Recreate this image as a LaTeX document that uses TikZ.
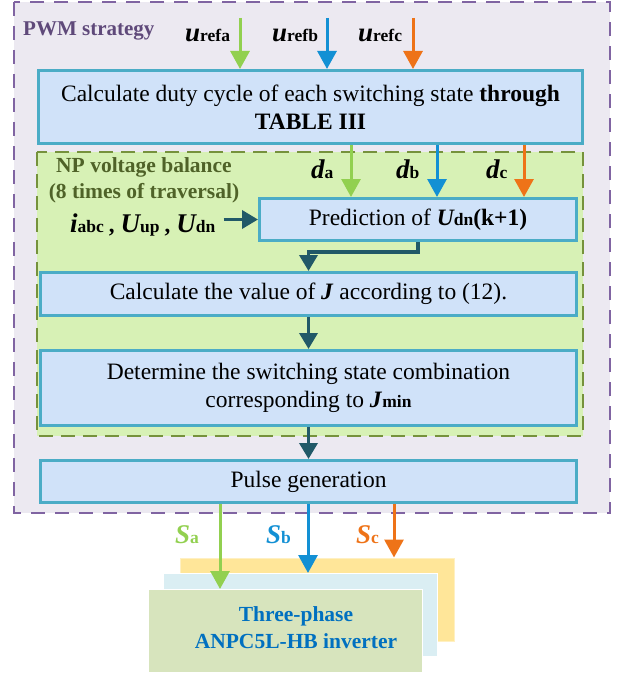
\documentclass[tikz,border=0pt]{standalone}
\usepackage{fontspec}
\setmainfont{Liberation Serif}
\usetikzlibrary{arrows.meta,positioning,calc}
\definecolor{PurpleDash}{HTML}{8064A2}
\definecolor{PurpleText}{HTML}{5F497A}
\definecolor{Lavender}{HTML}{ECE9F1}
\definecolor{NPGreen}{HTML}{D7F1B5}
\definecolor{NPDash}{HTML}{76923C}
\definecolor{NPText}{HTML}{4F6228}
\definecolor{BoxFill}{HTML}{D0E2F9}
\definecolor{BoxLine}{HTML}{4BACC6}
\definecolor{FlowDark}{HTML}{215968}
\definecolor{PhA}{HTML}{92D050}
\definecolor{PhB}{HTML}{1390D4}
\definecolor{PhC}{HTML}{EE7318}
\definecolor{InvYellow}{HTML}{FFE699}
\definecolor{InvBlue}{HTML}{DAEEF3}
\definecolor{InvGreen}{HTML}{D7E4BD}
\definecolor{InvText}{HTML}{0070C0}
\newcommand{\vsig}[2]{{\fontsize{27}{27}\selectfont\bfseries\itshape #1}{\fontsize{17.5}{18}\selectfont\bfseries #2}}
\newcommand{\vsub}[1]{{\fontsize{17.5}{18}\selectfont\bfseries #1}}
\newcommand{\vcomma}{\hspace{5pt}{\fontsize{23}{24}\selectfont\bfseries ,}\hspace{6pt}}

\begin{document}
\begin{tikzpicture}[
    x=1pt,y=-1pt,
    pbox/.style={rectangle,draw=BoxLine,fill=BoxFill,line width=3pt,align=center,inner sep=0pt,font=\fontsize{23.5}{28}\selectfont},
    invbox/.style={rectangle,line width=1pt,minimum width=274pt,minimum height=83pt},
    lbl/.style={anchor=base west,inner sep=0pt},
    flow/.style={-{Triangle[length=16pt,width=18pt]},line width=3.5pt,FlowDark},
    phase/.style={-{Triangle[length=18pt,width=19pt]},line width=3pt}
  ]
  \useasboundingbox (0,0) rectangle (616,674);
  % Regions
  \draw[PurpleDash,fill=Lavender,line width=2pt,dash pattern=on 14pt off 10pt] (14,2) rectangle (610,513);
  \draw[NPDash,fill=NPGreen,line width=2pt,dash pattern=on 14pt off 8pt] (37,152) rectangle (583,436);
  \node[lbl,font=\fontsize{21}{24}\selectfont\bfseries,text=PurpleText] (pwm) at (23,36) {PWM strategy};
  \node[align=center,font=\fontsize{21.5}{26}\selectfont\bfseries,text=NPText,inner sep=0pt] (np) at (144,180) {NP voltage balance\\(8 times of traversal)};
  % Steps
  \node[pbox,minimum width=544pt,minimum height=73pt] (duty) at (310.5,107)
    {Calculate duty cycle of each switching state \textbf{through}\\\textbf{TABLE III}};
  \node[pbox,minimum width=317pt,minimum height=42pt] (pred) at (418,219.5)
    {Prediction of {\bfseries\itshape U}\vsub{dn}\textbf{(k+1)}};
  \node[pbox,minimum width=536pt,minimum height=43pt] (calcj) at (308.5,294)
    {Calculate the value of \textbf{\textit{J}} according to (12).};
  \node[pbox,minimum width=536pt,minimum height=75pt] (detj) at (308.5,388)
    {Determine the switching state combination\\corresponding to \textbf{\textit{J}}\vsub{min}};
  \node[pbox,minimum width=536pt,minimum height=42pt] (pulse) at (308.5,481.5) {Pulse generation};
  % Inverter
  \node[invbox,fill=InvYellow,draw=InvYellow!60!white] (invc) at (317,599.5) {};
  \node[invbox,fill=InvBlue,draw=white] (invb) at (300.5,615) {};
  \node[invbox,fill=InvGreen,draw=white] (inva) at (285.5,631) {};
  \node[align=center,font=\fontsize{21.5}{27}\selectfont\bfseries,text=InvText] (invtxt) at (296,628)
    {Three-phase\\ANPC5L-HB inverter};
  % Signals
  \node[lbl] (urefa) at (185,42) {\vsig{u}{refa}};
  \node[lbl] (urefb) at (272,42) {\vsig{u}{refb}};
  \node[lbl] (urefc) at (358,42) {\vsig{u}{refc}};
  \node[lbl] (da) at (311,178) {\vsig{d}{a}};
  \node[lbl] (db) at (396,178) {\vsig{d}{b}};
  \node[lbl] (dc) at (486,178) {\vsig{d}{c}};
  \node[lbl] (iabc) at (70,232) {\vsig{i}{abc}\vcomma\vsig{U}{up}\vcomma\vsig{U}{dn}};
  \node[lbl,text=PhA] (sa) at (175,543) {\vsig{S}{a}};
  \node[lbl,text=PhB] (sb) at (266,543) {\vsig{S}{b}};
  \node[lbl,text=PhC] (sc) at (356,543) {\vsig{S}{c}};
  \coordinate (ua) at (240,18);
  \coordinate (ub) at (327,18);
  \coordinate (uc) at (413,18);
  \coordinate (bend) at (418,252);
  % References
  \draw[phase,PhA] (ua) -- (ua |- duty.north);
  \draw[phase,PhB] (ub) -- (ub |- duty.north);
  \draw[phase,PhC] (uc) -- (uc |- duty.north);
  % Duty cycles
  \draw[phase,PhA] (duty.south -| 351,0) -- (pred.north -| 351,0);
  \draw[phase,PhB] (duty.south -| 437,0) -- (pred.north -| 437,0);
  \draw[phase,PhC] (duty.south -| 524,0) -- (pred.north -| 524,0);
  % Main flow
  \draw[flow] (iabc.east |- pred.west) ++(8,0) -- (pred.west);
  \draw[flow] (pred.south) -- (bend) -| (calcj.north);
  \draw[flow] (calcj.south) -- (detj.north);
  \draw[flow] (detj.south) -- (pulse.north);
  % Pulses
  \draw[phase,PhA] (pulse.south -| 220,0) -- (inva.north -| 220,0);
  \draw[phase,PhB] (pulse.south -| 308,0) -- (invb.north -| 308,0);
  \draw[phase,PhC] (pulse.south -| 394,0) -- (invc.north -| 394,0);
\end{tikzpicture}
\end{document}
